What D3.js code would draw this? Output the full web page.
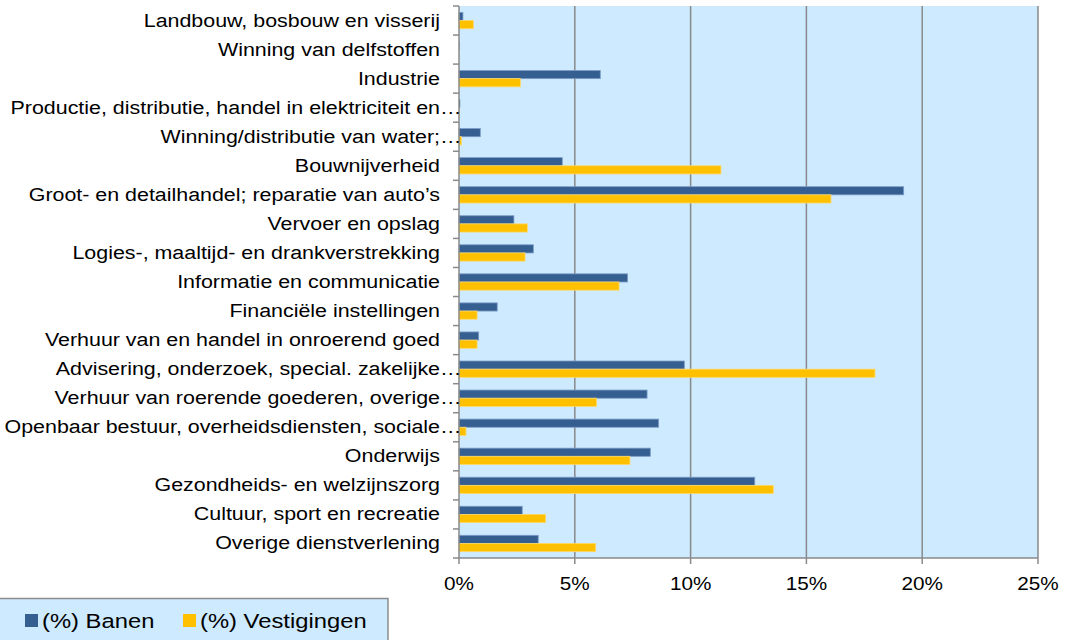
<!DOCTYPE html>
<html>
<head>
<meta charset="utf-8">
<script src="https://cdn.jsdelivr.net/npm/d3@7"></script>
<style>
  body { margin: 0; background: #fff; }
  text { font-family: "Liberation Sans", Arial, sans-serif; fill: #000; }
</style>
</head>
<body>
<div id="chartDiv"></div>
<script>
const categories = [
    "Landbouw, bosbouw en visserij",
    "Winning van delfstoffen",
    "Industrie",
    "Productie, distributie, handel in elektriciteit en…",
    "Winning/distributie van water;…",
    "Bouwnijverheid",
    "Groot- en detailhandel; reparatie van auto’s",
    "Vervoer en opslag",
    "Logies-, maaltijd- en drankverstrekking",
    "Informatie en communicatie",
    "Financiële instellingen",
    "Verhuur van en handel in onroerend goed",
    "Advisering, onderzoek, special. zakelijke…",
    "Verhuur van roerende goederen, overige…",
    "Openbaar bestuur, overheidsdiensten, sociale…",
    "Onderwijs",
    "Gezondheids- en welzijnszorg",
    "Cultuur, sport en recreatie",
    "Overige dienstverlening"
]

const banen = [0.17, 0.02, 6.1, 0.05, 0.92, 4.46, 19.2, 2.37, 3.21, 7.28, 1.65, 0.85, 9.73, 8.12, 8.62, 8.26, 12.77, 2.73, 3.42]
const vestigingen = [0.62, 0.01, 2.65, 0.02, 0.1, 11.31, 16.06, 2.95, 2.85, 6.91, 0.78, 0.78, 17.96, 5.94, 0.3, 7.38, 13.57, 3.74, 5.9]

const xTicks = [0, 5, 10, 15, 20, 25]
const seriesNames = ["(%) Banen", "(%) Vestigingen"]
const seriesColors = ["#355f91", "#ffc000"]
const seriesStrokes = ["#7d9cc6", "#ffd866"]

const width = 1066
const height = 640
const plot = { left: 459, right: 1038, top: 6, bottom: 558 }
const plotBg = "#cdeafe"
const gridColor = "#8a8a8a"

const svg = d3.select("#chartDiv")
    .append("svg")
    .attr("width", width)
    .attr("height", height)

const xScale = d3.scaleLinear()
    .domain([0, 25])
    .range([plot.left, plot.right])

const yScale = d3.scaleBand()
    .domain(categories)
    .range([plot.top, plot.bottom])
    .padding(0)

const ySub = d3.scaleBand()
    .domain([0, 1])
    .range([0, yScale.bandwidth()])
    .paddingInner(0)
    .paddingOuter(0.78)

// plot background
svg.append("rect")
    .attr("x", plot.left)
    .attr("y", plot.top)
    .attr("width", plot.right - plot.left)
    .attr("height", plot.bottom - plot.top)
    .attr("fill", plotBg)

// vertical gridlines
svg.append("g")
    .selectAll("line")
    .data(xTicks.slice(1))
    .enter()
    .append("line")
    .attr("x1", d => xScale(d))
    .attr("x2", d => xScale(d))
    .attr("y1", plot.top)
    .attr("y2", plot.bottom)
    .attr("stroke", gridColor)
    .attr("stroke-width", 1.5)

// bars
const rows = categories.map((c, i) => ({ cat: c, values: [banen[i], vestigingen[i]] }))

const rowGroups = svg.append("g")
    .selectAll("g")
    .data(rows)
    .enter()
    .append("g")
    .attr("transform", d => `translate(0,${yScale(d.cat)})`)

rowGroups.selectAll("rect")
    .data(d => d.values.map((v, s) => ({ v, s })))
    .enter()
    .append("rect")
    .attr("x", xScale(0))
    .attr("y", d => ySub(d.s))
    .attr("width", d => xScale(d.v) - xScale(0))
    .attr("height", ySub.bandwidth())
    .attr("fill", d => seriesColors[d.s])
    .attr("stroke", d => d.v > 0.05 ? seriesStrokes[d.s] : "none")
    .attr("stroke-width", 0.8)

// left axis (category boundaries as ticks)
const leftAxis = svg.append("g")
const boundaries = categories.map(c => yScale(c)).concat([plot.bottom])
leftAxis.append("line")
    .attr("x1", plot.left).attr("x2", plot.left)
    .attr("y1", plot.top).attr("y2", plot.bottom)
    .attr("stroke", gridColor).attr("stroke-width", 1.5)
leftAxis.selectAll(".tk")
    .data(boundaries)
    .enter()
    .append("line")
    .attr("x1", plot.left - 6).attr("x2", plot.left)
    .attr("y1", d => d).attr("y2", d => d)
    .attr("stroke", gridColor).attr("stroke-width", 1.5)

// category labels
const labelX = 440
const labels = svg.append("g")
rows.forEach(d => {
    const yMid = yScale(d.cat) + yScale.bandwidth() / 2 + 6
    const truncated = d.cat.endsWith("…")
    const body = truncated ? d.cat.slice(0, -1) : d.cat
    labels.append("text")
        .attr("transform", `translate(${labelX},${yMid}) scale(1.19,1)`)
        .attr("text-anchor", "end")
        .attr("font-size", 18)
        .text(body)
    if (truncated) {
        labels.append("text")
            .attr("transform", `translate(${labelX},${yMid}) scale(1.19,1)`)
            .attr("text-anchor", "start")
            .attr("font-size", 18)
            .text("…")
    }
})

// bottom axis
const bottomAxis = svg.append("g")
bottomAxis.append("line")
    .attr("x1", plot.left).attr("x2", plot.right)
    .attr("y1", plot.bottom).attr("y2", plot.bottom)
    .attr("stroke", gridColor).attr("stroke-width", 1.5)
bottomAxis.selectAll(".tk")
    .data(xTicks)
    .enter()
    .append("line")
    .attr("x1", d => xScale(d)).attr("x2", d => xScale(d))
    .attr("y1", plot.bottom).attr("y2", plot.bottom + 6)
    .attr("stroke", gridColor).attr("stroke-width", 1.5)
bottomAxis.selectAll("text")
    .data(xTicks)
    .enter()
    .append("text")
    .attr("transform", d => `translate(${xScale(d)},590) scale(1.12,1)`)
    .attr("text-anchor", "middle")
    .attr("font-size", 18.5)
    .text(d => d + "%")

// legend
const legend = svg.append("g")
legend.append("rect")
    .attr("x", -1).attr("y", 598.5)
    .attr("width", 389).attr("height", 45)
    .attr("fill", plotBg)
    .attr("stroke", "#8c8c8c").attr("stroke-width", 1.5)
const legendX = [25, 183]
seriesNames.forEach((name, i) => {
    legend.append("rect")
        .attr("x", legendX[i]).attr("y", 614)
        .attr("width", 13).attr("height", 13)
        .attr("fill", seriesColors[i])
    legend.append("text")
        .attr("transform", `translate(${legendX[i] + 17},628) scale(1.22,1)`)
        .attr("font-size", 19.5)
        .text(name)
})
</script>
</body>
</html>
